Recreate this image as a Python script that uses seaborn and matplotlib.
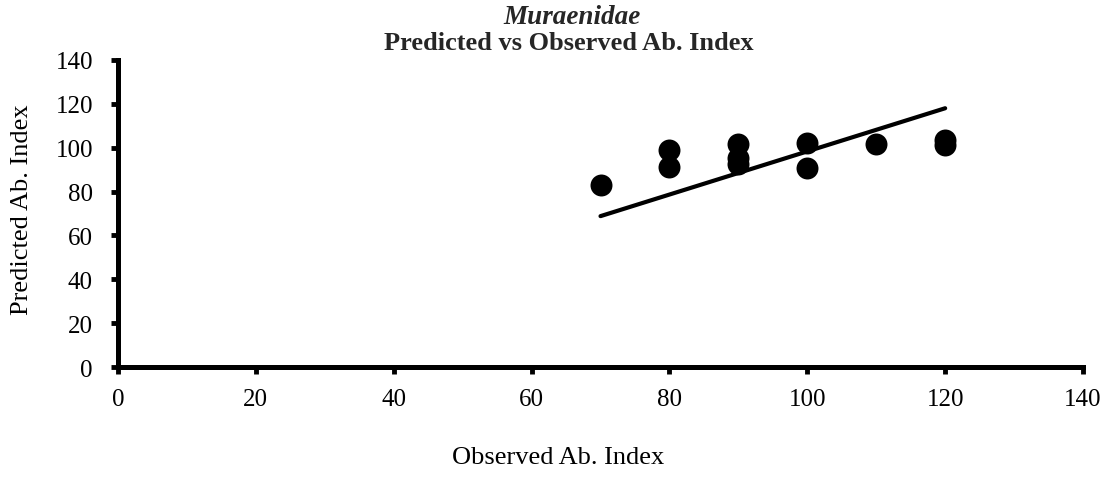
import matplotlib
matplotlib.use("Agg")
import matplotlib.pyplot as plt
import seaborn as sns
import pandas as pd

observed = [70, 80, 80, 90, 90, 90, 100, 100, 110, 120, 120]
predicted = [83, 98.8, 91.4, 101.8, 95.5, 92.8, 102.2, 90.8, 101.8, 103.3, 101.3]
line_x = [70, 120]
line_y = [68.8, 118.0]
x_ticks = [0, 20, 40, 60, 80, 100, 120, 140]
y_ticks = [0, 20, 40, 60, 80, 100, 120, 140]

sns.set_theme(style="white")
plt.rcParams["font.family"] = ["Liberation Serif", "DejaVu Serif"]

df = pd.DataFrame({"Observed": observed, "Predicted": predicted})

fig = plt.figure(figsize=(11.10, 4.81), dpi=100)
ax = fig.add_axes([0.1063, 0.2349, 0.8694, 0.6383])

sns.scatterplot(data=df, x="Observed", y="Predicted", ax=ax, color="black",
                s=250, edgecolor="black", linewidth=0, zorder=3, clip_on=False)
sns.lineplot(x=line_x, y=line_y, ax=ax, color="black", linewidth=3.0, zorder=2)

ax.set_xlim(0, 140)
ax.set_ylim(0, 140)
ax.set_xticks(x_ticks)
ax.set_yticks(y_ticks)
ax.tick_params(axis="both", which="major", bottom=True, left=True,
               direction="out", length=5, width=3.5, color="black",
               labelsize=18, labelcolor="black")
ax.tick_params(axis="y", pad=13)
ax.tick_params(axis="x", pad=10)
for side in ["top", "right"]:
    ax.spines[side].set_visible(False)
for side in ["left", "bottom"]:
    ax.spines[side].set_linewidth(3.6)
    ax.spines[side].set_color("black")
    ax.spines[side].set_capstyle("projecting")

ax.set_xlabel("Observed Ab. Index", fontsize=19, color="black")
ax.set_ylabel("Predicted Ab. Index", fontsize=19, color="black")
ax.xaxis.set_label_coords(0.456, -0.257)
ax.yaxis.set_label_coords(-0.088, 0.515)

fig.text(0.515, 1 - 24 / 481, "Muraenidae", ha="center", va="baseline",
         fontsize=19.5, fontweight="bold", fontstyle="italic")
fig.text(0.512, 1 - 50 / 481, "Predicted vs Observed Ab. Index", ha="center",
         va="baseline", fontsize=19, fontweight="bold")

fig.savefig("out.png", dpi=100)
